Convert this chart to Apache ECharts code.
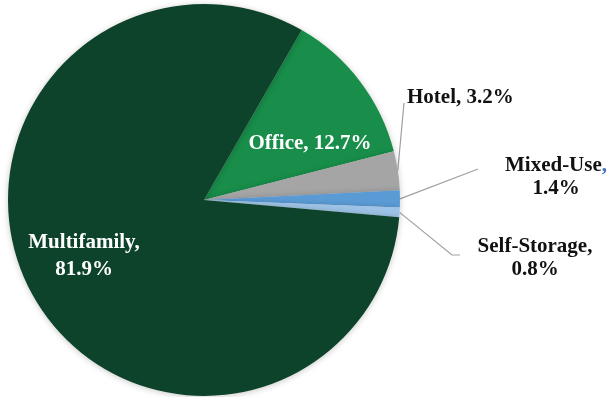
<!DOCTYPE html>
<html>
<head>
<meta charset="utf-8">
<script src="https://cdn.jsdelivr.net/npm/echarts@6/dist/echarts.min.js"></script>
<style>
  html, body { margin: 0; padding: 0; background: #ffffff; }
  #chart { width: 613px; height: 397px; }
</style>
</head>
<body>
<div id="chart"></div>
<script>
// Property-type mix (% of total)
const categories = ['Office', 'Hotel', 'Mixed-Use', 'Self-Storage', 'Multifamily'];
const shares = [12.7, 3.2, 1.4, 0.8, 81.9];
const sliceColors = ['#188e4a', '#a5a5a5', '#5b9bd5', '#9dc3e6', '#0e432b'];
const insideLabels = ['Office', 'Multifamily'];
const twoLineLabels = ['Multifamily', 'Mixed-Use', 'Self-Storage'];

// Where each label sits and how its leader line bends after leaving the slice
const labelPlacement = {
  'Office':       { x: 310, y: 144, lineHeight: 25 },
  'Multifamily':  { x: 84,  y: 256, lineHeight: 27 },
  'Hotel':        { x: 407, y: 98,  align: 'left',   lineHeight: 23, bend: [[404, 103]] },
  'Mixed-Use':    { x: 556, y: 177, align: 'center', lineHeight: 23, bend: [[478, 169]] },
  'Self-Storage': { x: 535, y: 258, align: 'center', lineHeight: 23, bend: [[452, 255], [460, 255]] }
};

const CENTER = [204, 200];
const RADIUS = 196;
const START = 60.1;

// Point on the rim at the middle of slice i
function rimPoint(i) {
  const total = shares.reduce((a, b) => a + b, 0);
  let before = 0;
  for (let k = 0; k < i; k++) before += shares[k];
  const mid = START - (before + shares[i] / 2) / total * 360;
  const rad = mid * Math.PI / 180;
  return [CENTER[0] + RADIUS * Math.cos(rad), CENTER[1] - RADIUS * Math.sin(rad)];
}

const data = categories.map((name, i) => {
  const inside = insideLabels.includes(name);
  return {
    name: name,
    value: shares[i],
    itemStyle: { color: sliceColors[i] },
    label: {
      position: inside ? 'inside' : 'outside',
      color: inside ? '#ffffff' : '#111111',
      lineHeight: labelPlacement[name].lineHeight
    },
    labelLine: { show: !inside }
  };
});

const chart = echarts.init(document.getElementById('chart'), null, { renderer: 'canvas' });
chart.setOption({
  animation: false,
  backgroundColor: '#ffffff',
  series: [{
    type: 'pie',
    center: CENTER,
    radius: RADIUS,
    startAngle: START,
    clockwise: true,
    avoidLabelOverlap: false,
    itemStyle: {
      borderWidth: 0,
      shadowColor: 'rgba(0, 0, 0, 0.22)',
      shadowBlur: 6,
      shadowOffsetY: 1
    },
    label: {
      show: true,
      fontFamily: 'Liberation Serif',
      fontWeight: 'bold',
      fontSize: 21,
      formatter: function (p) {
        const sep = twoLineLabels.includes(p.name) ? '\n' : ' ';
        const comma = p.name === 'Mixed-Use' ? '{blue|,}' : ',';
        return p.name + comma + sep + p.value + '%';
      },
      rich: {
        blue: { color: '#4472c4', fontFamily: 'Liberation Serif', fontWeight: 'bold', fontSize: 21 }
      }
    },
    labelLine: {
      show: true,
      lineStyle: { color: '#a0a0a0', width: 1.2 }
    },
    labelLayout: function (params) {
      const name = categories[params.dataIndex];
      const place = labelPlacement[name];
      const out = {
        x: place.x,
        y: place.y,
        align: place.align || 'center',
        verticalAlign: 'middle'
      };
      if (place.bend) {
        out.labelLinePoints = [rimPoint(params.dataIndex)].concat(place.bend);
      }
      return out;
    },
    data: data
  }]
});
</script>
</body>
</html>
